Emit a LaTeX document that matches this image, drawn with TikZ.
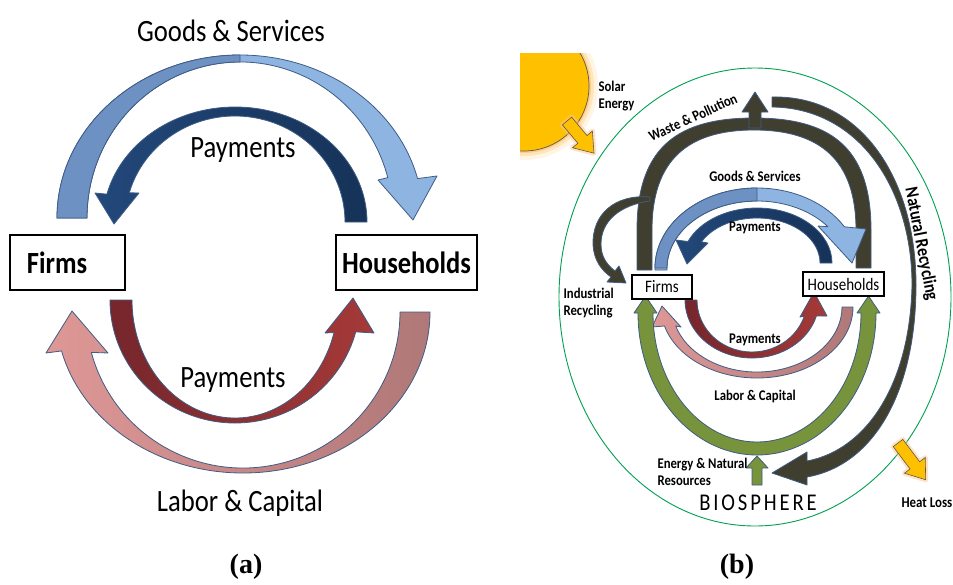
\documentclass[tikz,border=0pt]{standalone}
\usepackage{fontspec}
\setmainfont[FakeStretch=0.86]{Carlito}
\newfontfamily\capfont{Liberation Serif}
\newfontfamily\spacedfont[LetterSpace=12, FakeStretch=0.86]{Carlito}
\usetikzlibrary{positioning}

\definecolor{outline}{RGB}{62,92,132}
\definecolor{gsdark}{RGB}{110,145,195}
\definecolor{gslight}{RGB}{142,180,226}
\definecolor{navy}{RGB}{22,50,88}
\definecolor{navylight}{RGB}{34,72,122}
\definecolor{reddark}{RGB}{118,38,44}
\definecolor{redlight}{RGB}{165,58,56}
\definecolor{pinklight}{RGB}{222,152,150}
\definecolor{pinkdark}{RGB}{176,120,120}
\definecolor{wastecol}{RGB}{64,62,46}
\definecolor{greencol}{RGB}{119,147,60}
\definecolor{suncol}{RGB}{255,192,0}
\definecolor{bioline}{RGB}{0,160,80}

\begin{document}
\begin{tikzpicture}[x=1pt,y=-1pt,
  arrowline/.style={draw=outline, line width=.8pt, line join=round},
  lblA/.style={font=\fontsize{31}{34}\selectfont},
  boxA/.style={draw, line width=1.6pt, minimum height=55pt, font=\fontsize{30.8}{34}\selectfont\bfseries},
  lblB/.style={font=\fontsize{14.8}{17}\selectfont\bfseries},
  boxB/.style={draw, fill=white, line width=1.2pt, minimum height=24pt, inner sep=0pt, font=\fontsize{17.5}{19}\selectfont},
  glow/.style={draw=orange!45, line width=5pt, opacity=.5, line join=round},
  capt/.style={font=\fontsize{28}{30}\capfont\bfseries}]
\useasboundingbox (0,0) rectangle (953,584);

% (a) simple circular flow
\path[arrowline, fill=gslight] (57,218) arc[start angle=180,end angle=346,x radius=183,y radius=163]
  -- (437,176) -- (413,220) -- (378,180)
  -- ([shift={(240,218)}]345:153 and 156) arc[start angle=345,end angle=180,x radius=153,y radius=156] -- cycle;
\path[arrowline, fill=gsdark] (57,218) arc[start angle=180,end angle=270,x radius=183,y radius=163]
  -- ([shift={(240,218)}]270:153 and 156) arc[start angle=270,end angle=180,x radius=153,y radius=156] -- cycle;
\path[arrowline, left color=navylight, right color=navy] (367,222) arc[start angle=0,end angle=-166,x radius=132,y radius=115]
  -- (95,193) -- (114,224) -- (139,193)
  -- ([shift={(235,222)}]-164:110 and 106) arc[start angle=-164,end angle=0,x radius=110,y radius=106] -- cycle;
\path[arrowline, left color=reddark, right color=redlight] (110,300) arc[start angle=180,end angle=15,x radius=125,y radius=123]
  -- (374,333) -- (353,298) -- (325,333)
  -- ([shift={(235,300)}]16:103 and 118) arc[start angle=16,end angle=180,x radius=103,y radius=118] -- cycle;
\path[arrowline, left color=pinklight, right color=pinkdark] (430,312) arc[start angle=0,end angle=166,x radius=187,y radius=161]
  -- (46,353) -- (72,311) -- (108,353)
  -- ([shift={(243,312)}]165:157 and 156) arc[start angle=165,end angle=0,x radius=157,y radius=156] -- cycle;

\node[boxA, minimum width=115pt, text width=81pt, inner xsep=17pt, align=left] (firmsA) at (67.5,262.5) {Firms};
\node[boxA, minimum width=141pt, inner xsep=0pt] (houseA) at (406.5,262.5) {Households};
\node[lblA] (goodsA) at (231,31) {Goods \& Services};
\node[lblA] (payTopA) at (243,150) {Payments};
\node[lblA] (payBotA) at (233,380) {Payments};
\node[lblA] (laborA) at (240,503) {Labor \& Capital};
\node[capt] (captA) at (246,567) {(a)};

% (b) economy inside the biosphere
\begin{scope}
  \clip (520,53) rectangle (660,175);
  \foreach \r/\o in {74/.1, 70/.18, 67/.3}
    \fill[orange!80!yellow, opacity=\o] (524,86) circle[radius=\r];
  \fill[suncol, draw=gray!70!black, line width=.7pt] (524,86) circle[radius=65];
\end{scope}
\begin{scope}[shift={(567,121)}, rotate=-50]
  \path[glow] (0,-6) -- (24,-6) -- (24,-13) -- (42,0) -- (24,13) -- (24,6) -- (0,6) -- cycle;
  \path[fill=suncol, draw=gray!70!black, line width=.6pt] (0,-6) -- (24,-6) -- (24,-13) -- (42,0) -- (24,13) -- (24,6) -- (0,6) -- cycle;
\end{scope}
\draw[bioline, line width=.9pt] (755,297) ellipse[x radius=196, y radius=229];
\begin{scope}[shift={(898,443)}, rotate=-53]
  \path[glow] (0,-6) -- (28,-6) -- (28,-13) -- (46,0) -- (28,13) -- (28,6) -- (0,6) -- cycle;
  \path[fill=suncol, draw=gray!70!black, line width=.6pt] (0,-6) -- (28,-6) -- (28,-13) -- (46,0) -- (28,13) -- (28,6) -- (0,6) -- cycle;
\end{scope}

% waste, recycling
\path[arrowline, fill=wastecol] (637,270) -- (637,230) .. controls (637,145) and (680,118) .. (754,118)
  .. controls (828,118) and (871,145) .. (871,230) -- (871,268) -- (856,268) -- (856,230)
  .. controls (856,160) and (820,130) .. (754,130) .. controls (688,130) and (652,160) .. (652,230) -- (652,270) -- cycle;
\path[arrowline, fill=wastecol] (749,128) -- (749,112) -- (742,112) -- (755,92) -- (768,112) -- (761,112) -- (761,128) -- cycle;
\path[arrowline, fill=wastecol] (772,97) .. controls (862,95) and (916,180) .. (916,285)
  .. controls (916,390) and (875,465) .. (807,477) -- (807,485) -- (772,473) -- (807,452) -- (807,461)
  .. controls (866,450) and (910,385) .. (912,285) .. controls (912,190) and (860,108) .. (772,107) -- cycle;
\path[arrowline, fill=wastecol] (650,197) .. controls (615,194) and (592,214) .. (593,245)
  .. controls (594,260) and (601,270) .. (611,277) -- (607,282) -- (626,283) -- (619,266) -- (615,271)
  .. controls (606,264) and (601,256) .. (601,244) .. controls (601,221) and (620,205) .. (650,201) -- cycle;

% goods and payments
\path[arrowline, fill=gslight] (655,270) -- (655,268) arc[start angle=180,end angle=329,x radius=102,y radius=80]
  -- (866,229) -- (852,263) -- (818,226)
  -- ([shift={(757,268)}]322:90 and 67) arc[start angle=322,end angle=180,x radius=90,y radius=67] -- (667,270) -- cycle;
\path[arrowline, fill=gsdark] (655,268) arc[start angle=180,end angle=270,x radius=102,y radius=80]
  -- ([shift={(757,268)}]270:90 and 67) arc[start angle=270,end angle=180,x radius=90,y radius=67] -- cycle;
\path[arrowline, left color=navylight, right color=navy] (832,263) arc[start angle=0,end angle=-157,x radius=75,y radius=55]
  -- (676,240) -- (687,264) -- (708,243)
  -- ([shift={(757,263)}]-152:63 and 45) arc[start angle=-152,end angle=0,x radius=63,y radius=45] -- cycle;
\path[arrowline, left color=reddark, right color=redlight] (685,300) arc[start angle=180,end angle=16,x radius=67,y radius=58]
  -- (827,316) -- (814,292) -- (800,317)
  -- ([shift={(752,300)}]18:55 and 52) arc[start angle=18,end angle=180,x radius=55,y radius=52] -- cycle;
\path[arrowline, left color=pinklight, right color=pinkdark] (853,307) arc[start angle=0,end angle=164.5,x radius=96,y radius=71]
  -- (652,327) -- (662,306) -- (681,327)
  -- ([shift={(757,307)}]163:85 and 65) arc[start angle=163,end angle=0,x radius=85,y radius=65] -- cycle;
\path[arrowline, fill=greencol] (638,313) arc[start angle=180,end angle=0,x radius=119,y radius=142]
  -- (880,313) -- (868.5,296) -- (857,313) -- (861,313) arc[start angle=0,end angle=180,x radius=104,y radius=129]
  -- (657,313) -- (645.5,296) -- (634,313) -- cycle;
\path[arrowline, fill=greencol] (752,485) -- (752,468) -- (746,468) -- (757,456) -- (768,468) -- (762,468) -- (762,485) -- cycle;

\node[boxB, minimum width=60pt] (firmsB) at (662,287) {Firms};
\node[boxB, minimum width=81pt] (houseB) at (843.5,284) {Households};
\node[lblB, align=left, anchor=west] (solar) at (595,96) {Solar\\Energy};
\node[lblB, rotate=24.5, anchor=base] (waste) at (695,122) {Waste \& Pollution};
\node[lblB] (goodsB) at (755,176) {Goods \& Services};
\node[lblB] (payTopB) at (755,228) {Payments};
\node[lblB, rotate=-79, font=\fontsize{18.5}{20}\selectfont\bfseries] (natural) at (921,244) {Natural Recycling};
\node[lblB, align=left, anchor=west] (industrial) at (560,303) {Industrial\\Recycling};
\node[lblB] (payBotB) at (755,340) {Payments};
\node[lblB] (laborB) at (755,396) {Labor \& Capital};
\node[lblB, align=left, anchor=west] (energy) at (654,472) {Energy \& Natural\\Resources};
\node[font=\fontsize{24}{26}\spacedfont] (bio) at (758,503) {BIOSPHERE};
\node[lblB, anchor=west, font=\fontsize{15}{17}\selectfont\bfseries] (heat) at (898,503) {Heat Loss};
\node[capt] (captB) at (737,567) {(b)};
\end{tikzpicture}
\end{document}
